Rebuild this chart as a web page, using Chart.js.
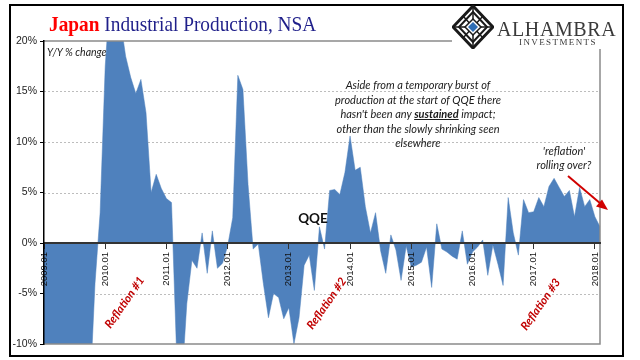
<!DOCTYPE html>
<html>
<head>
<meta charset="utf-8">
<script src="https://cdn.jsdelivr.net/npm/chart.js@4"></script>
<style>
  html, body { margin: 0; padding: 0; background: #fff; }
  #wrap { position: relative; width: 640px; height: 360px; overflow: hidden; background: #fff; }
  #c { position: absolute; left: 0; top: 0; }
  .ov { position: absolute; white-space: nowrap; }
  .note { font-family: Lato, "Open Sans", sans-serif; font-style: italic; color: #1a1a1a; }
  .refl { font-family: Lato, sans-serif; font-style: italic; font-weight: bold; color: #C00000; font-size: 11.5px; transform: translate(-50%, -50%) rotate(-55deg); }
</style>
</head>
<body>
<div id="wrap">
  <canvas id="c" width="640" height="360"></canvas>

  <!-- outer border -->
  <div class="ov" style="left:9px;top:4px;width:611px;height:349px;border:2px solid #000;"></div>

  <!-- title -->
  <div class="ov" style="left:49px;top:14px;line-height:21px;font-family:'Liberation Serif',serif;font-size:21px;transform:scaleX(0.92);transform-origin:left center;">
    <span style="color:#FF0000;font-weight:bold;">Japan</span> <span style="color:#1F1F8A;">Industrial Production, NSA</span>
  </div>

  <!-- logo -->
  <div class="ov" style="left:452px;top:7px;width:166px;height:42px;background:#fff;"></div>
  <svg class="ov" style="left:452px;top:5px;" width="42" height="44" viewBox="0 0 42 44">
    <polygon points="21,1 41,22 21,43 1,22" fill="#fff" stroke="#1a1a1a" stroke-width="3"/>
    <polygon points="21,7 35,22 21,37 7,22" fill="none" stroke="#1a1a1a" stroke-width="2"/>
    <path d="M21,1 L21,43 M1,22 L41,22 M11,11 L31,33 M31,11 L11,33" stroke="#1a1a1a" stroke-width="1.5" fill="none"/>
    <polygon points="21,14 29,22 21,30 13,22" fill="#fff" stroke="#1a1a1a" stroke-width="1.5"/>
    <polygon points="21,17 26,22 21,27 16,22" fill="#2E6DB4"/>
  </svg>
  <div class="ov" style="left:497px;top:19px;line-height:20px;font-family:'Liberation Serif',serif;font-size:20px;letter-spacing:0.6px;color:#3a3a3a;">ALHAMBRA</div>
  <div class="ov" style="left:519px;top:38px;line-height:9px;font-family:'Liberation Serif',serif;font-size:9px;letter-spacing:1.4px;color:#3a3a3a;">INVESTMENTS</div>

  <!-- annotations -->
  <div class="ov note" style="left:47px;top:45px;font-size:10.5px;line-height:14px;">Y/Y % change</div>
  <div class="ov note" style="left:298px;top:78px;width:240px;text-align:center;font-size:11px;line-height:14.5px;">
    Aside from a temporary burst of<br>production at the start of QQE there<br>hasn't been any <b><u>sustained</u></b> impact;<br>other than the slowly shrinking seen<br>elsewhere
  </div>
  <div class="ov note" style="left:509px;top:144px;width:110px;text-align:center;font-size:11px;line-height:14px;">'reflation'<br>rolling over?</div>
  <div class="ov" style="left:283px;top:210px;width:60px;text-align:center;font-family:Lato,sans-serif;font-weight:bold;font-size:13.5px;line-height:16px;color:#111;">QQE</div>
  <div class="ov refl" style="left:124px;top:302px;">Reflation #1</div>
  <div class="ov refl" style="left:326px;top:303px;">Reflation #2</div>
  <div class="ov refl" style="left:540px;top:304px;">Reflation #3</div>

  <svg class="ov" style="left:0;top:0;" width="640" height="360">
    <line x1="568" y1="176" x2="601" y2="204" stroke="#D00000" stroke-width="2"/>
    <polygon points="608,210 596,206.5 602,199.5" fill="#D00000"/>
  </svg>
</div>

<script>
// ---- data ----
const startYear = 2009;
const monthCount = 110; // 2009.01 .. 2018.02
const categories = [];
for (let i = 0; i < monthCount; i++) {
  const y = startYear + Math.floor(i / 12);
  const m = (i % 12) + 1;
  categories.push(y + '.' + (m < 10 ? '0' + m : m));
}

const yoy2009 = [-31, -38, -34, -31, -29, -24, -22, -19, -19, -15, -4, 3];
const yoy2010 = [17.5, 25, 30, 22, 18.5, 16.4, 14.8, 16.2, 12.9, 5.0, 6.8, 5.4];
const yoy2011 = [4.4, 4.0, -11, -14, -6, -1.7, -2.5, 1.0, -3.0, 1.2, -2.5, -2.0];
const yoy2012 = [-0.3, 2.5, 16.6, 15.2, 5.8, -0.6, -0.1, -4.0, -7.4, -5.0, -5.4, -7.5];
const yoy2013 = [-6.4, -10.0, -7.4, -2.2, -1.2, -4.7, 1.6, -0.6, 5.2, 5.3, 4.8, 7.0];
const yoy2014 = [10.6, 7.2, 7.5, 3.6, 1.0, 3.0, -0.8, -3.0, 0.8, -0.7, -3.7, -0.3];
const yoy2015 = [-2.4, -2.2, -1.9, -0.4, -4.4, 1.9, -0.6, -0.9, -1.3, -1.6, 1.2, -2.1];
const yoy2016 = [-0.9, -0.4, 0.3, -3.2, -0.2, -2.1, -4.2, 4.5, 1.0, -1.2, 4.3, 3.0];
const yoy2017 = [3.1, 4.5, 3.6, 5.6, 6.4, 5.5, 4.6, 5.2, 2.6, 5.5, 3.6, 4.3];
const yoy2018 = [2.6, 1.6];

const values = [].concat(yoy2009, yoy2010, yoy2011, yoy2012, yoy2013,
                         yoy2014, yoy2015, yoy2016, yoy2017, yoy2018);

const yMin = -10, yMax = 20, yStep = 5;

// ---- plugin: dashed gridlines + plot frame ----
const framePlugin = {
  id: 'frame',
  beforeDatasetsDraw(chart) {
    const { ctx, chartArea: a, scales: { y } } = chart;
    ctx.save();
    ctx.strokeStyle = '#BDBDBD';
    ctx.lineWidth = 1;
    ctx.setLineDash([2, 2]);
    y.ticks.forEach(t => {
      if (t.value === y.min || t.value === y.max || t.value === 0) return;
      const py = Math.round(y.getPixelForValue(t.value)) + 0.5;
      ctx.beginPath();
      ctx.moveTo(a.left, py);
      ctx.lineTo(a.right, py);
      ctx.stroke();
    });
    ctx.restore();
  },
  afterDatasetsDraw(chart) {
    const { ctx, chartArea: a } = chart;
    ctx.save();
    ctx.strokeStyle = '#8A8A8A';
    ctx.lineWidth = 1.5;
    ctx.beginPath();
    ctx.moveTo(a.left, a.top);
    ctx.lineTo(a.right, a.top);
    ctx.lineTo(a.right, a.bottom);
    ctx.lineTo(a.left, a.bottom);
    ctx.stroke();
    ctx.restore();
  }
};

new Chart(document.getElementById('c'), {
  type: 'line',
  data: {
    labels: categories,
    datasets: [{
      data: values,
      fill: 'origin',
      backgroundColor: '#4F81BD',
      borderColor: '#4F81BD',
      borderWidth: 0.5,
      pointRadius: 0,
      tension: 0
    }]
  },
  options: {
    responsive: false,
    animation: false,
    devicePixelRatio: 1,
    layout: { padding: { left: 0, right: 40, top: 41, bottom: 16 } },
    plugins: { legend: { display: false }, tooltip: { enabled: false }, title: { display: false } },
    scales: {
      x: {
        type: 'category',
        position: { y: 0 },
        offset: false,
        grid: {
          drawOnChartArea: false,
          drawTicks: true,
          tickLength: 5,
          tickColor: ctx => (ctx.index % 12 === 0 ? '#333' : 'rgba(0,0,0,0)'),
          z: 1
        },
        border: { display: true, color: '#333', width: 2, z: 1 },
        ticks: {
          autoSkip: false,
          minRotation: 90,
          maxRotation: 90,
          padding: 4,
          color: '#111',
          font: { family: 'Liberation Sans', size: 9.5 },
          callback: (val, idx) => (idx % 12 === 0 ? categories[idx] : ''),
          z: 1
        }
      },
      y: {
        min: yMin,
        max: yMax,
        afterFit: s => { s.width = 44; },
        grid: {
          drawOnChartArea: false,
          drawTicks: true,
          tickLength: 4,
          tickColor: '#000',
          z: 1
        },
        border: { display: true, color: '#000', width: 1.5, z: 1 },
        ticks: {
          stepSize: yStep,
          padding: 3,
          color: '#222',
          font: { family: 'Liberation Sans', size: 10.5 },
          callback: v => v + '%'
        }
      }
    }
  },
  plugins: [framePlugin]
});
</script>
</body>
</html>
